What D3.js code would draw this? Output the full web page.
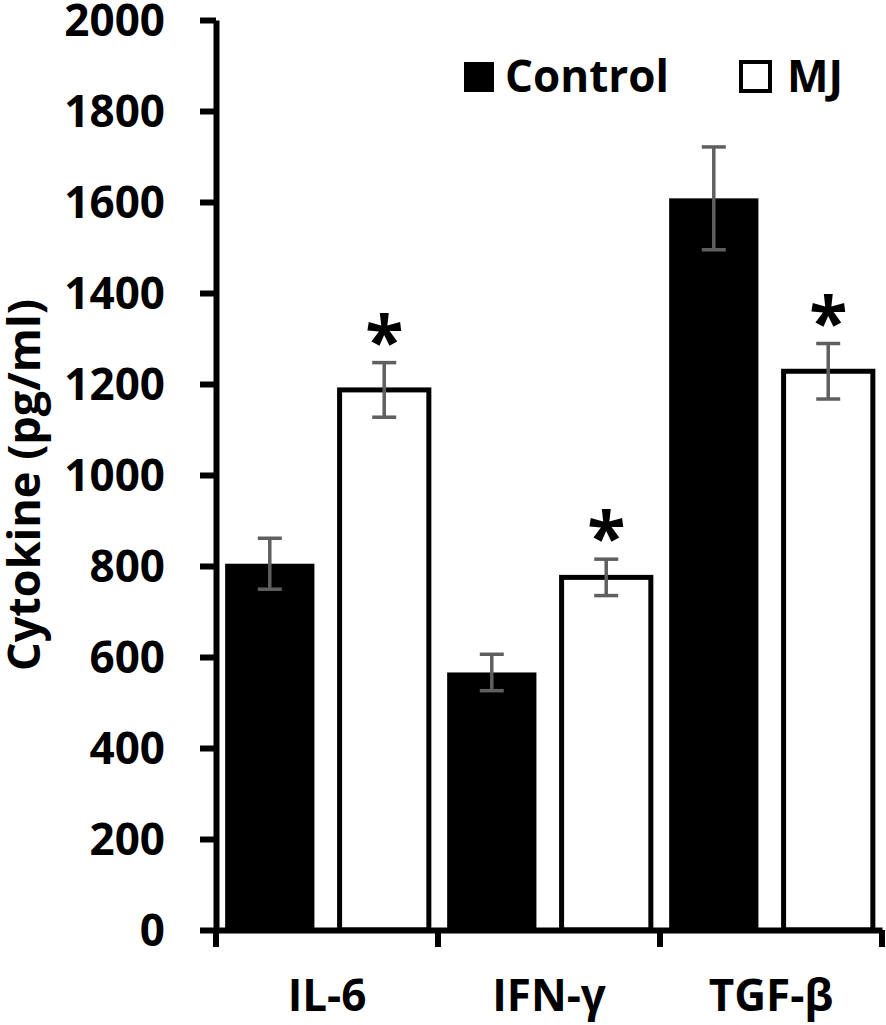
<!DOCTYPE html>
<html lang="en">
<head>
<meta charset="UTF-8">
<title>Cytokine levels</title>
<script src="https://d3js.org/d3.v7.min.js"></script>
<style>
  body { margin: 0; background: #fff; }
  svg text { font-family: "Open Sans", "Noto Sans", sans-serif; font-weight: 700; fill: #000; }
</style>
</head>
<body>
<script>
// data
const categories = ["IL-6", "IFN-\u03b3", "TGF-\u03b2"];
const series = ["Control", "MJ"];
const controlValues = [805, 566, 1608];
const controlErrors = [56, 40, 113];
const mjValues = [1187, 775, 1228];
const mjErrors = [60, 40, 61];
const significant = [false, true]; // asterisk on MJ bars
const yTicks = [0, 200, 400, 600, 800, 1000, 1200, 1400, 1600, 1800, 2000];

const width = 886, height = 1025;

const svg = d3.select("body").append("svg")
    .attr("width", width)
    .attr("height", height);

const x = d3.scaleBand().domain(categories).range([216, 882]);
const xSub = d3.scaleBand().domain(series)
    .range([0, x.bandwidth()])
    .paddingInner(0.22)
    .paddingOuter(0.08);
const y = d3.scaleLinear().domain([0, 2000]).range([930, 20]);

const rows = [];
categories.forEach((c, i) => {
    rows.push({ cat: c, s: "Control", v: controlValues[i], e: controlErrors[i], star: significant[0] });
    rows.push({ cat: c, s: "MJ", v: mjValues[i], e: mjErrors[i], star: significant[1] });
});

// bars
svg.append("g").selectAll("rect")
    .data(rows)
    .enter().append("rect")
    .attr("x", d => x(d.cat) + xSub(d.s))
    .attr("width", xSub.bandwidth())
    .attr("y", d => y(d.v))
    .attr("height", d => y(0) - y(d.v))
    .attr("fill", d => d.s === "Control" ? "#000" : "#fff")
    .attr("stroke", d => d.s === "Control" ? "none" : "#000")
    .attr("stroke-width", 5);

// error bars
const err = svg.append("g")
    .attr("stroke", "#5f5f5f")
    .attr("stroke-width", 3.5)
    .selectAll("g")
    .data(rows)
    .enter().append("g")
    .attr("transform", d => `translate(${x(d.cat) + xSub(d.s) + xSub.bandwidth() / 2},0)`);
err.append("line")
    .attr("y1", d => y(d.v - d.e))
    .attr("y2", d => y(d.v + d.e));
err.append("line")
    .attr("x1", -12).attr("x2", 12)
    .attr("y1", d => y(d.v + d.e)).attr("y2", d => y(d.v + d.e));
err.append("line")
    .attr("x1", -12).attr("x2", 12)
    .attr("y1", d => y(d.v - d.e)).attr("y2", d => y(d.v - d.e));

// asterisks
svg.append("g").selectAll("text")
    .data(rows.filter(d => d.star))
    .enter().append("text")
    .attr("x", d => x(d.cat) + xSub(d.s) + xSub.bandwidth() / 2)
    .attr("y", d => y(d.v + d.e) + 3)
    .attr("text-anchor", "middle")
    .style("font-size", "70px")
    .text("*");

// y axis
const yAxis = svg.append("g")
    .attr("transform", `translate(${x.range()[0]},0)`)
    .call(d3.axisLeft(y).tickValues(yTicks).tickFormat(d3.format("d")).tickSize(16).tickSizeOuter(0).tickPadding(35));
yAxis.select(".domain").attr("stroke", "#000").attr("stroke-width", 6);
yAxis.selectAll(".tick line").attr("stroke", "#000").attr("stroke-width", 6);
yAxis.selectAll(".tick text").style("font-size", "44px").attr("dy", "0.36em");

// x axis
const xAxis = svg.append("g")
    .attr("transform", `translate(0,${y(0)})`)
    .call(d3.axisBottom(x).tickSize(0).tickSizeOuter(0).tickPadding(50));
xAxis.select(".domain").attr("stroke", "#000").attr("stroke-width", 6);
xAxis.selectAll(".tick text").style("font-size", "44px");

// category boundary ticks below the x axis
const bounds = categories.map(c => x(c)).concat([x.range()[1]]);
xAxis.append("g").selectAll("line")
    .data(bounds)
    .enter().append("line")
    .attr("x1", d => d).attr("x2", d => d)
    .attr("y1", 0).attr("y2", 17)
    .attr("stroke", "#000")
    .attr("stroke-width", 6);

// y axis title
svg.append("text")
    .attr("transform", `translate(40,${(y(0) + y(2000)) / 2 + 10}) rotate(-90)`)
    .attr("text-anchor", "middle")
    .style("font-size", "45px")
    .text("Cytokine (pg/ml)");

// legend
const legendItems = [
    { name: series[0], x: 464, fill: "#000" },
    { name: series[1], x: 741, fill: "#fff" }
];
const li = svg.append("g").selectAll("g")
    .data(legendItems)
    .enter().append("g")
    .attr("transform", d => `translate(${d.x},62)`);
li.append("rect")
    .attr("width", d => d.fill === "#000" ? 30 : 29)
    .attr("height", d => d.fill === "#000" ? 30 : 29)
    .attr("fill", d => d.fill)
    .attr("stroke", "#000")
    .attr("stroke-width", d => d.fill === "#000" ? 0 : 4);
li.append("text")
    .attr("x", d => d.fill === "#000" ? 41 : 46)
    .attr("y", 30)
    .style("font-size", "44px")
    .text(d => d.name);
</script>
</body>
</html>
